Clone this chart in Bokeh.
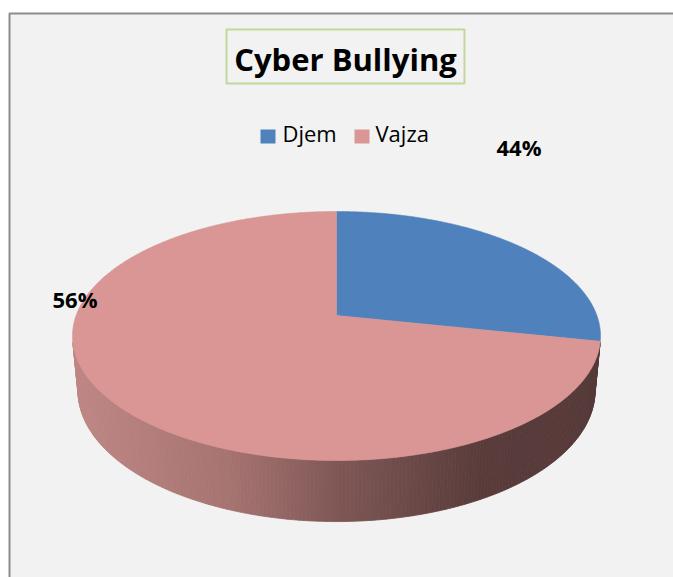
import numpy as np
from bokeh.plotting import figure
from bokeh.models import Range1d, ColumnDataSource
from bokeh.core.properties import value
from bokeh.embed import file_html
from bokeh.resources import INLINE

# ---------------- data ----------------
title_text = "Cyber Bullying"
categories = ["Djem", "Vajza"]
slice_shares = [28.3, 71.7]          # shares of the pie as drawn in the picture
label_texts = ["44%", "56%"]          # data labels as printed on the chart
top_colors = ["#4F81BD", "#D99694"]

# ---------------- layout / style ----------------
W, H = 673, 577
FONT = "Open Sans"
TXT_DY = -11   # correction between requested and rendered baseline
p = figure(width=W, height=H, output_backend="svg", toolbar_location=None,
           x_range=Range1d(0, W), y_range=Range1d(H, 0), min_border=0)
p.axis.visible = False
p.grid.visible = False
p.outline_line_color = None
p.background_fill_color = "white"
p.border_fill_color = "white"

# chart area
p.quad(left=9, right=W + 60, top=13, bottom=H + 60,
       fill_color="#F2F2F2", line_color="#8C8C8C", line_width=2)

# ---------------- 3D pie projection ----------------
cx, cy = 336.0, 315.0     # projected centre of the top face
S = 260.4                 # projected radius scale
sphi = 0.4652             # sin of elevation
cphi = np.sqrt(1 - sphi ** 2)
r = 0.186                 # radius / camera distance
f = S / r
hz = 0.0446               # thickness / camera distance


def proj(theta, z):
    px = r * np.cos(theta)
    py = r * np.sin(theta)
    pw = py * cphi + z * sphi
    pu = -py * sphi + z * cphi
    d = 1 - pw
    return cx + f * px / d, cy - f * pu / d


total = float(sum(slice_shares))
starts, ends = [], []
a = -np.pi / 2
for s in slice_shares:
    starts.append(a)
    a = a + 2 * np.pi * s / total
    ends.append(a)

# side faces (front-facing part only)
t_lo = np.arcsin(r / cphi)
t_hi = np.pi - t_lo
xmin, xmax = cx - 264, cx + 264
stops_u = [0.0, 0.3, 0.5, 0.78, 1.0]
stops_c = {
    0: [(70, 110, 160), (60, 95, 140), (45, 75, 115), (35, 60, 95), (35, 60, 95)],
    1: [(190, 134, 132), (165, 115, 112), (127, 88, 86), (88, 59, 58), (86, 57, 57)],
}


def side_color(i, x):
    u = np.clip((x - xmin) / (xmax - xmin), 0, 1)
    cs = np.array(stops_c[i], dtype=float)
    rgb = [np.interp(u, stops_u, cs[:, k]) for k in range(3)]
    return "#%02x%02x%02x" % tuple(int(round(v)) for v in rgb)


side_xs, side_ys, side_cols = [], [], []
for i in range(len(slice_shares)):
    for shift in (0.0, 2 * np.pi, -2 * np.pi):
        lo = max(starts[i] + shift, t_lo)
        hi = min(ends[i] + shift, t_hi)
        if hi <= lo:
            continue
        n = max(2, int((hi - lo) / np.pi * 240))
        th = np.linspace(lo, hi, n + 1)
        for j in range(n):
            t0, t1 = th[j], th[j + 1]
            x0t, y0t = proj(t0, 0)
            x1t, y1t = proj(t1, 0)
            x0b, y0b = proj(t0, -hz)
            x1b, y1b = proj(t1, -hz)
            side_xs.append([x0t, x1t, x1b, x0b])
            side_ys.append([y0t, y1t, y1b, y0b])
            side_cols.append(side_color(i, (x0t + x1t) / 2))

p.patches(xs="xs", ys="ys", fill_color="c", line_color="c", line_width=0.8,
          source=ColumnDataSource(dict(xs=side_xs, ys=side_ys, c=side_cols)))

# top faces
top_xs, top_ys = [], []
for i in range(len(slice_shares)):
    th = np.linspace(starts[i], ends[i], 400)
    xs, ys = proj(th, 0)
    top_xs.append([cx] + list(xs))
    top_ys.append([cy] + list(ys))
p.patches(xs="xs", ys="ys", fill_color="c", line_color="c", line_width=0.6,
          source=ColumnDataSource(dict(xs=top_xs, ys=top_ys, c=top_colors)))

# ---------------- title ----------------
p.quad(left=226, right=464, top=29, bottom=83, fill_color="#F2F2F2",
       line_color="#C3D69B", line_width=2)
p.text(x=[345], y=[69 + TXT_DY], text=[title_text], text_align="center",
       text_baseline="alphabetic", text_font=value(FONT), text_font_style="bold",
       text_font_size="31px", text_color="#000000")

# ---------------- legend ----------------
leg_sq_x = [260, 354]
leg_txt_x = [282, 375]
p.quad(left=leg_sq_x, right=[v + 15 for v in leg_sq_x], top=[129, 129],
       bottom=[143, 143], fill_color=top_colors, line_color=None)
p.text(x=leg_txt_x, y=[143 + TXT_DY] * 2, text=categories, text_align="left",
       text_baseline="alphabetic", text_font=value(FONT), text_font_size="22px",
       text_color="#000000")

# ---------------- data labels ----------------
p.text(x=[496, 52], y=[157 + TXT_DY, 309 + TXT_DY], text=label_texts,
       text_align="left", text_baseline="alphabetic", text_font=value(FONT),
       text_font_style="bold", text_font_size="22px", text_color="#000000")

open("out.html", "w").write(file_html(p, INLINE))
